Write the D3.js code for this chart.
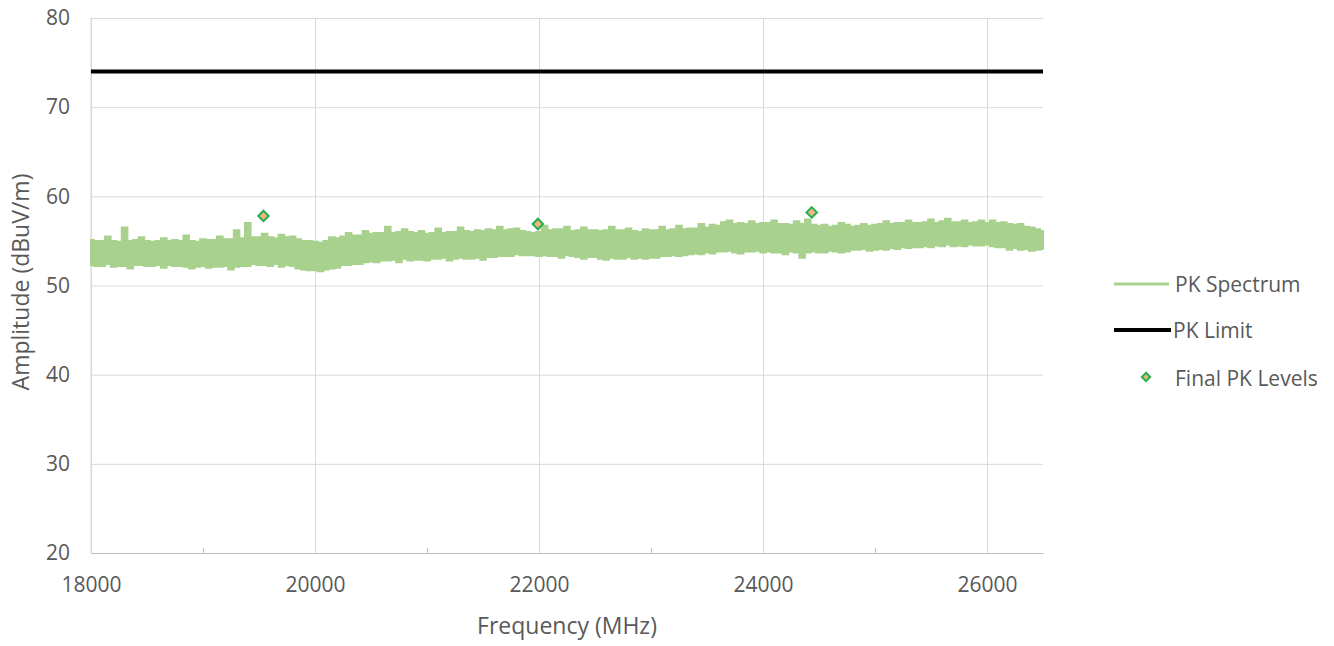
<!DOCTYPE html>
<html>
<head>
<meta charset="utf-8">
<script src="https://cdn.jsdelivr.net/npm/d3@7"></script>
<style>
  body { margin: 0; background: #fff; }
  text { font-family: "Open Sans", "Noto Sans", sans-serif; }
</style>
</head>
<body>
<div id="chart"></div>
<script>
// data
const freqStart = 18000, freqStep = 50;   // spectrum sample spacing (MHz)
const specHigh = [
  55.1, 55.0, 55.0, 55.5, 55.0, 54.9, 56.5, 55.0, 55.1, 55.4, 55.0,
  54.9, 55.0, 55.3, 55.0, 55.1, 55.0, 55.6, 55.0, 54.9, 55.2,
  55.1, 55.1, 55.5, 55.2, 55.2, 56.2, 55.3, 57.0, 55.4, 55.4,
  55.8, 55.4, 55.3, 55.7, 55.4, 55.5, 55.2, 55.0, 55.0, 54.9,
  54.8, 55.0, 55.4, 55.3, 55.5, 55.9, 55.6, 55.6, 56.1, 55.8,
  55.9, 55.9, 56.6, 55.9, 56.0, 56.3, 56.0, 55.9, 56.1, 55.8,
  55.9, 56.4, 55.9, 56.0, 56.0, 56.5, 56.1, 56.0, 56.2, 56.1,
  56.3, 56.2, 56.6, 56.2, 56.3, 56.4, 56.1, 56.0, 55.9, 56.0,
  56.7, 56.2, 56.3, 56.3, 56.6, 56.1, 56.2, 56.5, 56.2, 56.2,
  56.1, 56.2, 56.6, 56.2, 56.2, 56.4, 56.1, 56.0, 56.3, 56.2,
  56.2, 56.6, 56.2, 56.3, 56.7, 56.3, 56.4, 56.4, 56.9, 56.5,
  56.8, 56.7, 57.1, 57.3, 56.9, 57.0, 56.9, 57.2, 56.9, 57.0,
  57.0, 57.3, 56.9, 56.9, 56.8, 57.2, 56.9, 57.4, 56.8, 56.7,
  56.8, 56.6, 56.7, 57.0, 56.8, 56.6, 56.7, 56.9, 56.7, 56.8,
  56.9, 57.2, 56.9, 57.0, 57.0, 57.3, 57.0, 57.0, 57.1, 57.4,
  57.0, 57.2, 57.5, 57.1, 57.1, 57.3, 57.0, 57.1, 57.3, 57.0,
  57.3, 57.0, 57.1, 56.9, 56.8, 56.9, 56.6, 56.5, 56.3, 56.1
];
const specLow = [
  52.3, 52.2, 52.2, 52.4, 52.1, 52.2, 52.2, 51.9, 52.3, 52.3, 52.2,
  52.2, 52.3, 52.0, 52.3, 52.2, 52.2, 52.1, 51.9, 52.1, 52.2,
  52.0, 52.1, 52.1, 52.2, 51.8, 52.1, 52.2, 52.2, 52.4, 52.3,
  52.3, 52.2, 52.4, 52.1, 52.3, 52.2, 51.9, 51.8, 51.7, 51.7,
  51.6, 51.8, 51.9, 52.0, 52.3, 52.3, 52.4, 52.4, 52.6, 52.7,
  52.6, 52.8, 52.8, 52.9, 52.6, 53.0, 52.8, 52.9, 52.9, 52.8,
  53.0, 53.0, 53.1, 52.8, 53.0, 53.1, 53.0, 53.0, 53.1, 52.9,
  53.2, 53.2, 53.3, 53.3, 53.3, 53.5, 53.4, 53.4, 53.4, 53.3,
  53.4, 53.3, 53.3, 53.1, 53.4, 53.3, 53.2, 53.0, 53.2, 53.2,
  53.0, 52.9, 53.1, 53.0, 53.0, 53.2, 53.0, 53.1, 53.0, 53.1,
  53.1, 53.3, 53.3, 53.4, 53.3, 53.4, 53.5, 53.6, 53.5, 53.7,
  53.6, 53.8, 53.8, 53.9, 53.7, 53.6, 53.8, 53.8, 53.9, 53.7,
  53.8, 53.7, 53.7, 53.5, 53.8, 53.7, 53.1, 53.7, 53.8, 53.7,
  53.7, 53.9, 53.8, 53.7, 53.8, 54.0, 54.0, 54.1, 53.9, 54.0,
  54.1, 54.0, 54.2, 54.1, 54.3, 54.2, 54.3, 54.3, 54.4, 54.3,
  54.5, 54.4, 54.6, 54.4, 54.5, 54.4, 54.6, 54.5, 54.5, 54.6,
  54.4, 54.3, 54.3, 54.0, 54.2, 54.0, 54.1, 53.9, 54.0, 54.1
];
const limitFreq = [18000, 26500];
const limitLevel = [74, 74];
const finalFreq = [19540, 21990, 24435];
const finalLevel = [57.8, 56.9, 58.2];
const xTicks = [18000, 20000, 22000, 24000, 26000];
const xMinorTicks = [19000, 21000, 23000, 25000];
const yTicks = [20, 30, 40, 50, 60, 70, 80];
const legendNames = ["PK Spectrum", "PK Limit", "Final PK Levels"];

// set the dimensions and margins of the graph
const margin = { top: 18, right: 291, bottom: 93, left: 91 },
    width = 1334 - margin.left - margin.right,
    height = 646 - margin.top - margin.bottom;

const svg = d3.select("#chart")
    .append("svg")
    .attr("width", 1334)
    .attr("height", 646);

const g = svg.append("g")
    .attr("transform", `translate(${margin.left},${margin.top})`);

const x = d3.scaleLinear().domain([18000, 26500]).range([0, width]);
const y = d3.scaleLinear().domain([20, 80]).range([height, 0]);

// horizontal gridlines + y labels
g.append("g")
    .call(d3.axisLeft(y).tickValues(yTicks).tickSize(-width).tickPadding(21))
    .call(a => a.select(".domain").remove())
    .call(a => a.selectAll("line").attr("stroke", "#d9d9d9"))
    .call(a => a.selectAll("text").attr("fill", "#595959").style("font-size", "21px"));

// vertical gridlines
g.append("g")
    .attr("transform", `translate(0,${height})`)
    .call(d3.axisBottom(x).tickValues(xTicks).tickSize(-height).tickFormat(""))
    .call(a => a.select(".domain").remove())
    .call(a => a.selectAll("line").attr("stroke", "#d9d9d9"));

// minor ticks
g.append("g")
    .attr("transform", `translate(0,${height})`)
    .call(d3.axisBottom(x).tickValues(xMinorTicks).tickSize(-5).tickFormat(""))
    .call(a => a.select(".domain").remove())
    .call(a => a.selectAll("line").attr("stroke", "#bfbfbf"));

// x axis
g.append("g")
    .attr("transform", `translate(0,${height})`)
    .call(d3.axisBottom(x).tickValues(xTicks).tickSize(0).tickPadding(24).tickFormat(d3.format("d")))
    .call(a => a.select(".domain").attr("stroke", "#bfbfbf"))
    .call(a => a.selectAll("text").attr("fill", "#595959").style("font-size", "21px"));

// left axis line
g.append("line")
    .attr("x1", 0).attr("x2", 0).attr("y1", 0).attr("y2", height)
    .attr("stroke", "#d9d9d9");

// spectrum band
const spec = specHigh.map((h, i) => ({ f: freqStart + i * freqStep, hi: h, lo: specLow[i] }));
g.append("path")
    .datum(spec)
    .attr("fill", "#a9d18e")
    .attr("stroke", "#a9d18e")
    .attr("stroke-width", 2)
    .attr("d", d3.area()
        .curve(d3.curveStep)
        .x(d => x(d.f))
        .y0(d => y(d.lo))
        .y1(d => y(d.hi)));

// limit line
g.append("path")
    .datum(limitFreq.map((f, i) => ({ f: f, v: limitLevel[i] })))
    .attr("fill", "none")
    .attr("stroke", "#000")
    .attr("stroke-width", 4)
    .attr("d", d3.line().x(d => x(d.f)).y(d => y(d.v)));

// final levels
const diamond = d3.symbol().type(d3.symbolDiamond2).size(70);
g.selectAll(".final")
    .data(finalFreq.map((f, i) => ({ f: f, v: finalLevel[i] })))
    .join("path")
    .attr("class", "final")
    .attr("transform", d => `translate(${x(d.f)},${y(d.v)})`)
    .attr("d", diamond)
    .attr("fill", "#f4b183")
    .attr("stroke", "#22b14c")
    .attr("stroke-width", 2);

// axis titles
svg.append("text")
    .attr("x", margin.left + x(22250))
    .attr("y", 634)
    .attr("text-anchor", "middle")
    .attr("fill", "#595959")
    .style("font-size", "23px")
    .text("Frequency (MHz)");

svg.append("text")
    .attr("transform", `translate(29,282) rotate(-90)`)
    .attr("text-anchor", "middle")
    .attr("fill", "#595959")
    .style("font-size", "23px")
    .text("Amplitude (dBuV/m)");

// legend
const legend = svg.append("g").attr("transform", "translate(1114,0)");
const rows = [284, 330, 377];
legend.append("line").attr("x1", 0).attr("x2", 55).attr("y1", rows[0]).attr("y2", rows[0])
    .attr("stroke", "#a9d18e").attr("stroke-width", 3);
legend.append("line").attr("x1", 0).attr("x2", 57).attr("y1", rows[1]).attr("y2", rows[1])
    .attr("stroke", "#000").attr("stroke-width", 4);
legend.append("path").attr("transform", `translate(32,${rows[2]})`)
    .attr("d", d3.symbol().type(d3.symbolDiamond2).size(45))
    .attr("fill", "#f4b183").attr("stroke", "#22b14c").attr("stroke-width", 2);
legend.selectAll(".lbl")
    .data(legendNames)
    .join("text")
    .attr("class", "lbl")
    .attr("x", (d, i) => i === 1 ? 59 : 61)
    .attr("y", (d, i) => [292, 338, 386][i])
    .attr("fill", "#595959")
    .style("font-size", "21px")
    .text(d => d);
</script>
</body>
</html>
